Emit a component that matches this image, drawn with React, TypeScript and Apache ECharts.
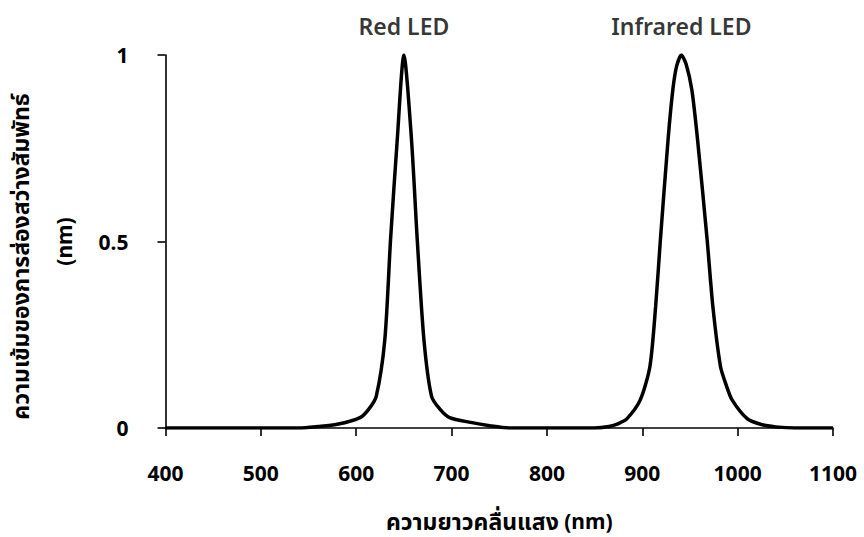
import React, { useEffect, useRef } from "react";
import * as echarts from "echarts";

// Relative emission spectra (wavelength in nm, normalised intensity)
const wavelengths = [
  400, 450, 500, 540, 560, 580, 604, 613, 621, 630, 636, 643, 650, 658, 664, 671, 679, 688, 698,
  720, 740, 760, 800, 850, 865, 875, 884, 898, 908, 914, 919, 927, 932, 936, 941, 946, 952, 958,
  968, 974, 982, 988, 994, 1010, 1024, 1040, 1060, 1100,
];
const intensities = [
  0, 0, 0, 0, 0.004, 0.01, 0.028, 0.05, 0.085, 0.237, 0.505, 0.772, 1.0, 0.772, 0.505, 0.237, 0.085, 0.05, 0.028,
  0.015, 0.006, 0, 0, 0, 0.004, 0.012, 0.025, 0.076, 0.165, 0.326, 0.505, 0.772, 0.906, 0.97, 1.0, 0.975, 0.906, 0.772,
  0.505, 0.326, 0.165, 0.115, 0.076, 0.025, 0.01, 0.003, 0, 0,
];

const peakLabels = ["Red LED", "Infrared LED"];
const peakWavelengths = [650, 941];
const peakIntensities = [1, 1];

const xMin = 400;
const xMax = 1100;
const xStep = 100;
const yMin = 0;
const yMax = 1;
const yStep = 0.5;

const xTitleThai = "ความยาวคลื่นแสง";
const xTitleUnit = "(nm)";
const yTitleThai = "ความเข้มของการส่องสว่างสัมพัทธ์";
const yTitleUnit = "(nm)";

const FONT = "'Noto Sans', 'Noto Sans Thai', Tahoma, sans-serif";

export default function App() {
  const ref = useRef<HTMLDivElement>(null);

  useEffect(() => {
    if (!ref.current) return;
    const chart = echarts.init(ref.current, null, { renderer: "svg" });
    const lineData = wavelengths.map((w, i) => [w, intensities[i]]);
    const peakData = peakWavelengths.map((w, i) => [w, peakIntensities[i]]);

    const nameRich = {
      th: { fontSize: 23, fontWeight: "bold", color: "#000", fontFamily: FONT },
      u: { fontSize: 21, fontWeight: "bold", color: "#000", fontFamily: FONT },
    };

    chart.setOption({
      animation: false,
      backgroundColor: "#ffffff",
      textStyle: { fontFamily: FONT, color: "#000" },
      grid: { left: 163.5, right: 31, top: 55, bottom: 108.5, containLabel: false },
      xAxis: {
        type: "value",
        min: xMin,
        max: xMax,
        interval: xStep,
        name: `{th|${xTitleThai}} {u|${xTitleUnit}}`,
        nameLocation: "middle",
        nameGap: 81,
        nameTextStyle: { fontSize: 21, fontWeight: "bold", color: "#000", fontFamily: FONT, rich: nameRich },
        axisLine: { show: true, onZero: false, lineStyle: { color: "#000", width: 1.6 } },
        axisTick: { show: true, length: 8, lineStyle: { color: "#000", width: 1.6 } },
        axisLabel: {
          margin: 34,
          fontSize: 21,
          fontWeight: "bold",
          color: "#000",
          fontFamily: FONT,
          formatter: (v: number) => String(v),
        },
        splitLine: { show: false },
      },
      yAxis: {
        type: "value",
        min: yMin,
        max: yMax,
        interval: yStep,
        name: `{th|${yTitleThai}}\n{u|${yTitleUnit}}`,
        nameLocation: "middle",
        nameGap: 80,
        nameTextStyle: {
          fontSize: 21,
          fontWeight: "bold",
          color: "#000",
          fontFamily: FONT,
          align: "center",
          rich: {
            th: { ...nameRich.th, lineHeight: 44, padding: [0, 30, 0, 0] },
            u: { ...nameRich.u, lineHeight: 44 },
          },
        },
        axisLine: { show: true, lineStyle: { color: "#000", width: 1.6 } },
        axisTick: { show: true, length: 8, lineStyle: { color: "#000", width: 1.6 } },
        axisLabel: {
          margin: 37,
          fontSize: 21,
          fontWeight: "bold",
          color: "#000",
          fontFamily: FONT,
          formatter: (v: number) => String(v),
        },
        splitLine: { show: false },
      },
      series: [
        {
          type: "line",
          data: lineData,
          symbol: "none",
          smooth: 0.25,
          lineStyle: { color: "#000", width: 3.5 },
          z: 3,
        },
        {
          type: "scatter",
          data: peakData,
          symbolSize: 0,
          silent: true,
          label: {
            show: true,
            position: "top",
            distance: 18,
            fontSize: 23,
            fontWeight: 600,
            color: "#000",
            fontFamily: FONT,
            formatter: (p: any) => peakLabels[p.dataIndex],
          },
          z: 4,
        },
      ],
    });

    return () => chart.dispose();
  }, []);

  return (
    <div
      ref={ref}
      style={{ position: "fixed", left: 0, top: 0, width: 864, height: 537, background: "#fff" }}
    />
  );
}
